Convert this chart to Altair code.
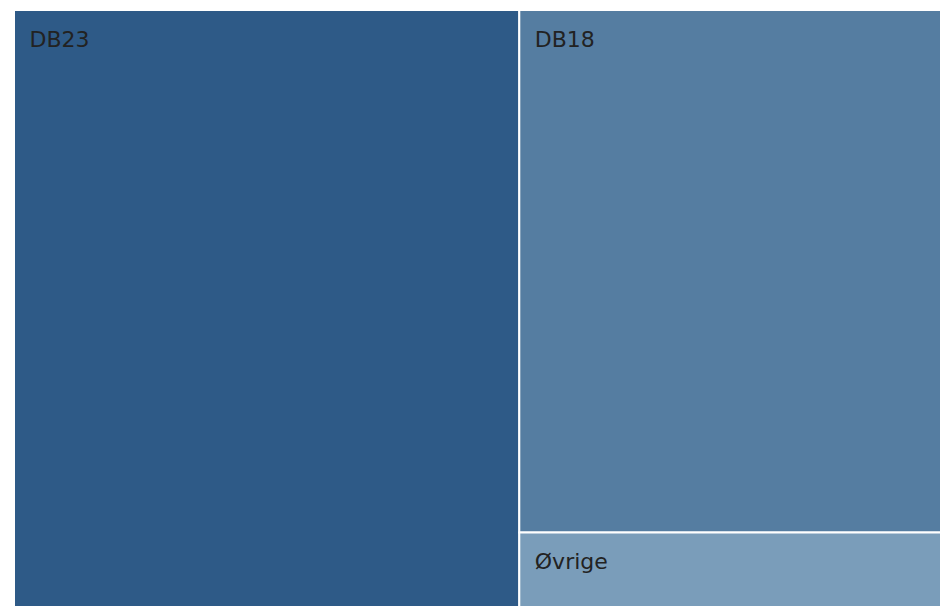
import altair as alt
import pandas as pd

names = ["DB23", "DB18", "Øvrige"]
values = [54.1, 39.7, 6.2]
colors = ["#2e5a87", "#557da1", "#7a9dba"]

# slice-and-dice layout: first item takes a full-height column, the rest stack vertically
total = sum(values)
rows = []
first_w = values[0] / total
rows.append(dict(name=names[0], x0=0.0, x1=first_w, y0=0.0, y1=1.0))
rest = sum(values[1:])
y = 0.0
for n, v in zip(names[1:], values[1:]):
    h = v / rest
    rows.append(dict(name=n, x0=first_w, x1=1.0, y0=y, y1=y + h))
    y += h
df = pd.DataFrame(rows)

# the treemap runs past the right and bottom edges of the window (clipped)
W, H = 926, 596
xs = alt.Scale(domain=[0, W / 934], nice=False, zero=False)
ys = alt.Scale(domain=[0, H / 604], nice=False, zero=False, reverse=True)
color = alt.Color("name:N", scale=alt.Scale(domain=names, range=colors), legend=None)

rects = alt.Chart(df).mark_rect(stroke="white", strokeWidth=2).encode(
    x=alt.X("x0:Q", scale=xs, axis=None),
    x2="x1:Q",
    y=alt.Y("y0:Q", scale=ys, axis=None),
    y2="y1:Q",
    color=color,
)
labels = alt.Chart(df).mark_text(
    align="left", baseline="alphabetic", dx=15.5, dy=37,
    font="DejaVu Sans", fontSize=22, color="#222222",
).encode(
    x=alt.X("x0:Q", scale=xs, axis=None),
    y=alt.Y("y0:Q", scale=ys, axis=None),
    text="name:N",
)

chart = (rects + labels).properties(
    width=W, height=H,
    padding={"left": 6, "top": 2, "right": 0, "bottom": 0},
    autosize=alt.AutoSizeParams(type="none"),
).configure_view(strokeWidth=0)

chart.save("out.html", embed_options={"renderer": "svg", "actions": False})
